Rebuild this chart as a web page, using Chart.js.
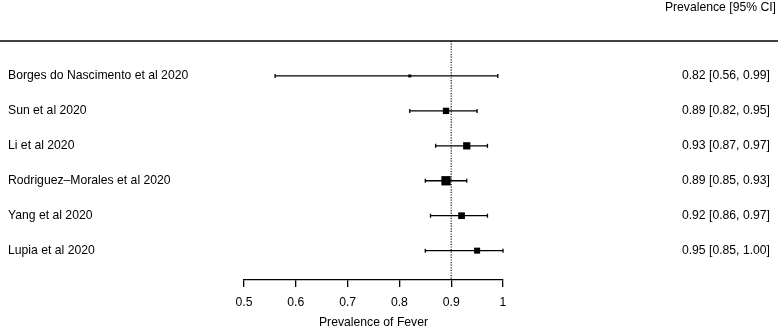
<!DOCTYPE html>
<html>
<head>
<meta charset="utf-8">
<script src="https://cdn.jsdelivr.net/npm/chart.js@4.4.0/dist/chart.umd.min.js"></script>
<style>
  html, body { margin: 0; padding: 0; background: #fff; }
  #wrap { width: 778px; height: 329px; }
</style>
</head>
<body>
<div id="wrap"><canvas id="forest"></canvas></div>
<script>
const studies = ['Borges do Nascimento et al 2020', 'Sun et al 2020', 'Li et al 2020', 'Rodriguez\u2013Morales et al 2020', 'Yang et al 2020', 'Lupia et al 2020'];
const estimates = [0.82, 0.89, 0.93, 0.89, 0.92, 0.95];
const lowerCI = [0.56, 0.82, 0.87, 0.85, 0.86, 0.85];
const upperCI = [0.99, 0.95, 0.97, 0.93, 0.97, 1.00];
const weights = [7.7, 16.4, 18.8, 24.1, 17.4, 15.6];
const xTicks = [0.5, 0.6, 0.7, 0.8, 0.9, 1.0];
const refValue = 0.9;

const FONT_FAMILY = "'Liberation Sans', Arial, Helvetica, sans-serif";
const font = { family: FONT_FAMILY, size: 12.2 };
const Y_MAX = 6.84;
const maxW = Math.max(...weights);

// box side grows with the study weight (biggest box ~9px)
function boxRadius(w) {
  return 9.3 * w / maxW * Math.SQRT1_2;
}

const headerPlugin = {
  id: 'header',
  afterDraw(chart) {
    const { ctx, width, scales } = chart;
    const y = scales.y.getPixelForValue(0);
    ctx.save();
    ctx.strokeStyle = '#000';
    ctx.lineWidth = 1.3;
    ctx.beginPath();
    ctx.moveTo(0, y);
    ctx.lineTo(width, y);
    ctx.stroke();
    ctx.fillStyle = '#000';
    ctx.font = `${font.size}px ${FONT_FAMILY}`;
    ctx.textAlign = 'right';
    ctx.textBaseline = 'middle';
    ctx.fillText('Prevalence [95% CI]', width - 2, 7.5);
    ctx.restore();
  }
};

const ciSets = studies.map((s, i) => ({
  label: s,
  data: [{ x: lowerCI[i], y: i + 1 }, { x: upperCI[i], y: i + 1 }],
  showLine: true,
  borderColor: '#000',
  borderWidth: 1.3,
  pointStyle: 'line',
  pointRotation: 90,
  pointRadius: 2,
  pointBorderWidth: 1.3,
  pointBorderColor: '#000',
  clip: false
}));

new Chart(document.getElementById('forest'), {
  type: 'scatter',
  data: {
    datasets: [
      {
        label: 'estimate',
        data: estimates.map((v, i) => ({ x: v, y: i + 1 })),
        pointStyle: 'rect',
        pointRadius: weights.map(boxRadius),
        pointBorderWidth: 0,
        pointBackgroundColor: '#000',
        clip: false
      },
      ...ciSets,
      {
        label: 'reference',
        data: [{ x: refValue, y: 0 }, { x: refValue, y: Y_MAX }],
        showLine: true,
        borderColor: '#000',
        borderWidth: 1.1,
        borderDash: [1.2, 1.4],
        pointRadius: 0
      }
    ]
  },
  options: {
    responsive: true,
    maintainAspectRatio: false,
    animation: false,
    events: [],
    layout: { padding: { top: 41, left: 8, right: 8, bottom: 0 } },
    plugins: { legend: { display: false }, tooltip: { enabled: false } },
    scales: {
      x: {
        type: 'linear',
        min: 0.5,
        max: 1,
        afterBuildTicks: s => { s.ticks = xTicks.map(v => ({ value: v })); },
        afterFit: s => { s.height = 49; },
        grid: { drawOnChartArea: false, drawTicks: true, tickLength: 7, color: '#000', lineWidth: 1.3 },
        border: { display: true, color: '#000', width: 1.3 },
        ticks: { color: '#000', font, padding: 8, maxRotation: 0, autoSkip: false, callback: v => String(v) },
        title: { display: true, text: 'Prevalence of Fever', color: '#000', font: { ...font, lineHeight: 1 }, padding: { top: 0, bottom: 0 } }
      },
      y: {
        type: 'linear',
        position: 'left',
        reverse: true,
        min: 0,
        max: Y_MAX,
        afterBuildTicks: s => { s.ticks = studies.map((_, i) => ({ value: i + 1 })); },
        afterFit: s => { s.width = 236; },
        grid: { display: false },
        border: { display: false },
        ticks: { crossAlign: 'far', color: '#000', font, padding: 0, autoSkip: false, callback: (v, i) => studies[i] }
      },
      y2: {
        type: 'linear',
        position: 'right',
        reverse: true,
        min: 0,
        max: Y_MAX,
        afterBuildTicks: s => { s.ticks = studies.map((_, i) => ({ value: i + 1 })); },
        afterFit: s => { s.width = 267; },
        grid: { display: false },
        border: { display: false },
        ticks: {
          crossAlign: 'far', color: '#000', font, padding: 0, autoSkip: false,
          callback: (v, i) => `${estimates[i].toFixed(2)} [${lowerCI[i].toFixed(2)}, ${upperCI[i].toFixed(2)}]`
        }
      }
    }
  },
  plugins: [headerPlugin]
});
</script>
</body>
</html>
